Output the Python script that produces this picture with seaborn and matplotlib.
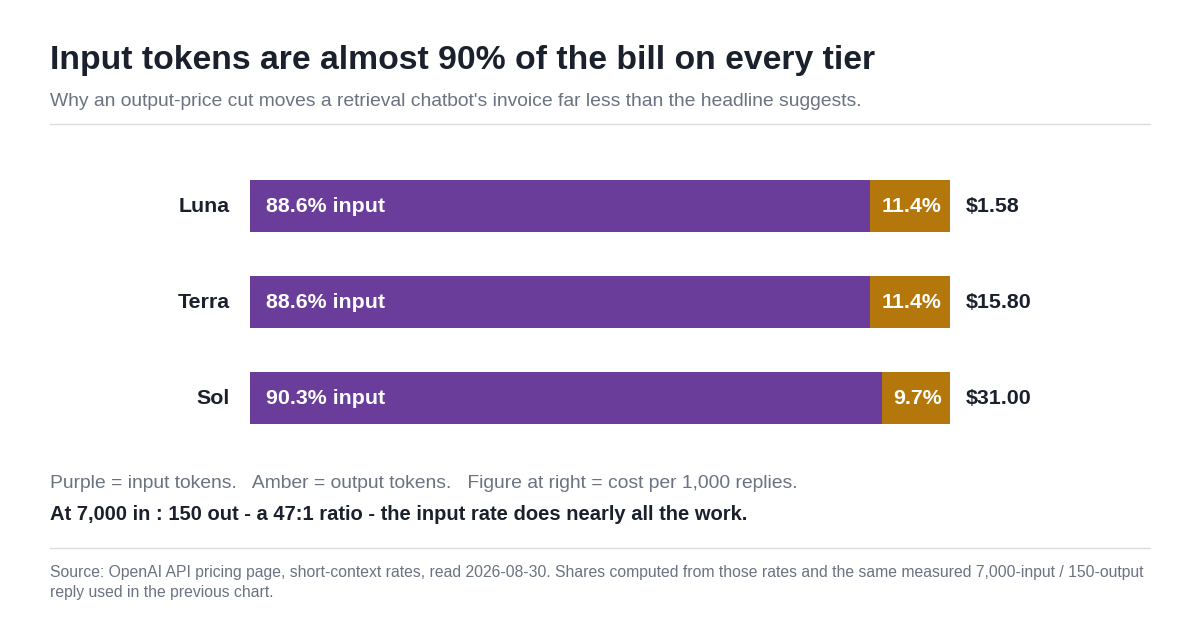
import seaborn as sns
import matplotlib.pyplot as plt
import pandas as pd

# data
tiers = ["Luna", "Terra", "Sol"]
input_share = [88.6, 88.6, 90.3]
output_share = [11.4, 11.4, 9.7]
cost_per_1000 = [1.58, 15.80, 31.00]

PURPLE = "#6a3d9b"
AMBER = "#b3770b"
DARK = "#1a202c"
GRAY = "#6b7280"
RULE = "#d9dce1"

sns.set_theme(style="white")
plt.rcParams['font.family'] = ['Liberation Sans', 'DejaVu Sans']

df = pd.DataFrame({"tier": tiers, "input": input_share, "output": output_share, "cost": cost_per_1000})
df["total"] = df["input"] + df["output"]

fig = plt.figure(figsize=(12, 6.2), dpi=100)
ax = fig.add_axes([250 / 1200, 1 - 446 / 620, 700 / 1200, 288 / 620])

# stacked bars: total in amber, input on top in purple
sns.barplot(data=df, x="total", y="tier", orient="h", color=AMBER, width=0.545, ax=ax,
            saturation=1, linewidth=0)
sns.barplot(data=df, x="input", y="tier", orient="h", color=PURPLE, width=0.545, ax=ax,
            saturation=1, linewidth=0)

ax.set_xlim(0, 100)
ax.set_ylim(2.5, -0.5)
ax.set_xlabel("")
ax.set_ylabel("")
ax.set_xticks([])
ax.set_yticks([])
sns.despine(ax=ax, left=True, bottom=True)

FS = 15.4
for i, row in df.iterrows():
    ax.text(-2.86, i, row["tier"], ha="right", va="center", fontsize=FS, fontweight="bold", color=DARK)
    ax.text(2.3, i, f"{row['input']:.1f}% input", ha="left", va="center", fontsize=FS,
            fontweight="bold", color="white")
    ax.text(row["total"] - 1.2, i, f"{row['output']:.1f}%", ha="right", va="center", fontsize=FS,
            fontweight="bold", color="white")
    ax.text(row["total"] + 2.3, i, f"${row['cost']:.2f}", ha="left", va="center", fontsize=FS,
            fontweight="bold", color=DARK)

# titles and notes
fig.text(50 / 1200, 1 - 60 / 620, "Input tokens are almost 90% of the bill on every tier",
         fontsize=24.3, fontweight="bold", color=DARK, va="center")
fig.text(50 / 1200, 1 - 101 / 620,
         "Why an output-price cut moves a retrieval chatbot's invoice far less than the headline suggests.",
         fontsize=13.9, color=GRAY, va="center")
fig.add_artist(plt.Line2D([50 / 1200, 1150 / 1200], [1 - 124 / 620] * 2, color=RULE, lw=1))

fig.text(50 / 1200, 1 - 483 / 620,
         "Purple = input tokens.   Amber = output tokens.   Figure at right = cost per 1,000 replies.",
         fontsize=13.9, color=GRAY, va="center")
fig.text(50 / 1200, 1 - 515 / 620,
         "At 7,000 in : 150 out - a 47:1 ratio - the input rate does nearly all the work.",
         fontsize=14.5, fontweight="bold", color=DARK, va="center")
fig.add_artist(plt.Line2D([50 / 1200, 1150 / 1200], [1 - 548 / 620] * 2, color=RULE, lw=1))

fig.text(50 / 1200, 1 - 572 / 620,
         "Source: OpenAI API pricing page, short-context rates, read 2026-08-30. Shares computed from those rates and the same measured 7,000-input / 150-output",
         fontsize=11.3, color=GRAY, va="center")
fig.text(50 / 1200, 1 - 592 / 620, "reply used in the previous chart.",
         fontsize=11.3, color=GRAY, va="center")

fig.savefig("out.png", dpi=100, facecolor="white")
